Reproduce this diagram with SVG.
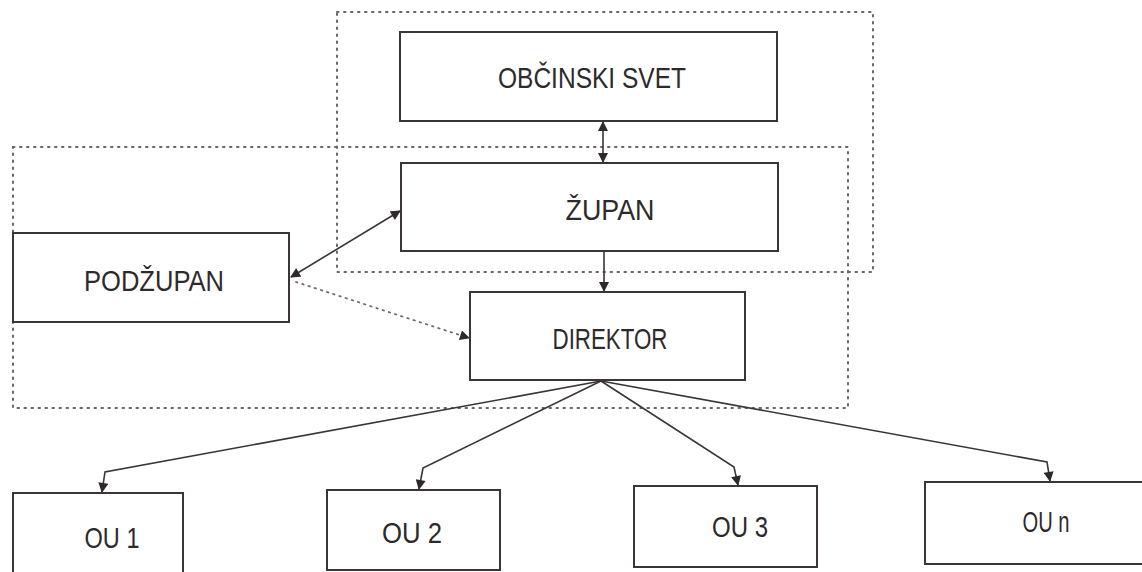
<svg xmlns="http://www.w3.org/2000/svg" width="1142" height="572" viewBox="0 0 1142 572">
  <style>
    .box { fill: #ffffff; stroke: #3b3438; stroke-width: 2; }
    .lbl { font-family: "Liberation Sans", Arial, sans-serif; font-size: 29px; fill: #2e2a2c; text-anchor: middle; }
    .frame { fill: none; stroke: #6a6468; stroke-width: 2; stroke-dasharray: 1.5 5.5; stroke-linecap: round; }
    .link { fill: none; stroke: #3b3438; stroke-width: 1.6; }
    .dotlink { fill: none; stroke: #6e686c; stroke-width: 1.8; stroke-dasharray: 1.5 5; stroke-linecap: round; }
  </style>
  <defs>
    <marker id="head" viewBox="0 0 10 10" refX="9" refY="5" markerWidth="11" markerHeight="10" markerUnits="userSpaceOnUse" orient="auto">
      <path d="M0,0 L10,5 L0,10 z" fill="#2e2a2c"/>
    </marker>
    <marker id="tail" viewBox="0 0 10 10" refX="1" refY="5" markerWidth="11" markerHeight="10" markerUnits="userSpaceOnUse" orient="auto">
      <path d="M10,0 L0,5 L10,10 z" fill="#2e2a2c"/>
    </marker>
  </defs>

  <rect width="1142" height="572" fill="#ffffff"/>

  <!-- dotted grouping frames -->
  <g id="frames">
    <rect class="frame" x="337" y="12" width="536" height="260"/>
    <rect class="frame" x="13" y="147" width="835" height="261"/>
  </g>

  <!-- connectors -->
  <g id="connectors">
    <line class="link" x1="603" y1="122" x2="603" y2="162" marker-start="url(#tail)" marker-end="url(#head)"/>
    <line class="link" x1="604" y1="252" x2="604" y2="291" marker-end="url(#head)"/>
    <line class="link" x1="291" y1="277" x2="400" y2="211" marker-start="url(#tail)" marker-end="url(#head)"/>
    <line class="dotlink" x1="296" y1="282" x2="469" y2="338" marker-end="url(#head)"/>
    <path class="link" d="M601,381 L105,472 L102,492" marker-end="url(#head)"/>
    <path class="link" d="M601,381 L423,468 L419,489" marker-end="url(#head)"/>
    <path class="link" d="M601,381 L734,467 L738,485" marker-end="url(#head)"/>
    <path class="link" d="M601,381 L1047,462 L1050,481" marker-end="url(#head)"/>
  </g>

  <g id="obcinski-svet">
    <rect class="box" x="400" y="32" width="377" height="89"/>
    <text class="lbl" x="592" y="88" textLength="188" lengthAdjust="spacingAndGlyphs">OBČINSKI SVET</text>
  </g>

  <g id="zupan">
    <rect class="box" x="401" y="163" width="377" height="88"/>
    <text class="lbl" x="610" y="220" textLength="89" lengthAdjust="spacingAndGlyphs">ŽUPAN</text>
  </g>

  <g id="podzupan">
    <rect class="box" x="13" y="233" width="276" height="89"/>
    <text class="lbl" x="154" y="291" textLength="140" lengthAdjust="spacingAndGlyphs">PODŽUPAN</text>
  </g>

  <g id="direktor">
    <rect class="box" x="470" y="292" width="275" height="88"/>
    <text class="lbl" x="610" y="349" textLength="115" lengthAdjust="spacingAndGlyphs">DIREKTOR</text>
  </g>

  <g id="ou1">
    <rect class="box" x="13" y="493" width="170" height="90"/>
    <text class="lbl" x="112" y="548" textLength="55" lengthAdjust="spacingAndGlyphs">OU 1</text>
  </g>

  <g id="ou2">
    <rect class="box" x="327" y="490" width="173" height="80"/>
    <text class="lbl" x="412" y="543" textLength="60" lengthAdjust="spacingAndGlyphs">OU 2</text>
  </g>

  <g id="ou3">
    <rect class="box" x="634" y="486" width="183" height="81"/>
    <text class="lbl" x="740" y="537" textLength="56" lengthAdjust="spacingAndGlyphs">OU 3</text>
  </g>

  <g id="oun">
    <rect class="box" x="925" y="482" width="230" height="82"/>
    <text class="lbl" x="1046" y="532" textLength="47" lengthAdjust="spacingAndGlyphs">OU n</text>
  </g>
</svg>
